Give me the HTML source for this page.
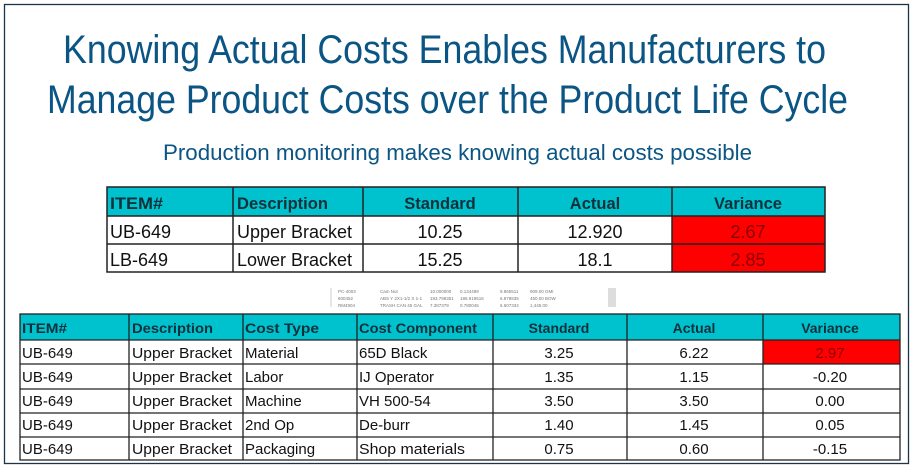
<!DOCTYPE html>
<html><head><meta charset="utf-8"><style>
html,body{margin:0;padding:0;background:#fff;}
svg{display:block;}
.t{font-family:"Liberation Sans",sans-serif;}
</style></head><body>
<svg width="917" height="472" viewBox="0 0 917 472" xmlns="http://www.w3.org/2000/svg">
<rect x="0" y="0" width="917" height="472" fill="#fff"/>
<rect x="4.5" y="4.5" width="904" height="459" fill="none" stroke="#1d3346" stroke-width="1.3"/>
<g font-family="Liberation Sans, sans-serif" fill="#0b5585">
<text x="63" y="63" font-size="40" textLength="763" lengthAdjust="spacingAndGlyphs">Knowing Actual Costs Enables Manufacturers to</text>
<text x="47" y="113" font-size="40" textLength="801" lengthAdjust="spacingAndGlyphs">Manage Product Costs over the Product Life Cycle</text>
<text x="163" y="160" font-size="22" textLength="589" lengthAdjust="spacingAndGlyphs">Production monitoring makes knowing actual costs possible</text>
</g>
<!-- table 1 -->
<rect x="107" y="187" width="718" height="29" fill="#00c2cf"/>
<rect x="672" y="216" width="153" height="56" fill="#ff0000"/>
<g stroke="#222" stroke-width="1.5" fill="none">
<rect x="107" y="187" width="718" height="85"/>
<line x1="107" y1="216" x2="825" y2="216"/><line x1="107" y1="244" x2="825" y2="244"/>
<line x1="233" y1="187" x2="233" y2="272"/><line x1="363" y1="187" x2="363" y2="272"/>
<line x1="518" y1="187" x2="518" y2="272"/><line x1="672" y1="187" x2="672" y2="272"/>
</g>
<g class="t" font-size="18" fill="#111">
<g font-weight="bold" fill="#10303a" font-size="16.5">
<text x="110" y="209" textLength="53" lengthAdjust="spacingAndGlyphs">ITEM#</text><text x="237" y="209" textLength="91" lengthAdjust="spacingAndGlyphs">Description</text>
<text x="440" y="209" text-anchor="middle">Standard</text><text x="595" y="209" text-anchor="middle">Actual</text>
<text x="748" y="209" text-anchor="middle">Variance</text></g>
<text x="110" y="238">UB-649</text><text x="237" y="238" textLength="115" lengthAdjust="spacingAndGlyphs">Upper Bracket</text>
<text x="440" y="238" text-anchor="middle">10.25</text><text x="595" y="238" text-anchor="middle">12.920</text>
<text x="748" y="238" text-anchor="middle" fill="#8a0000">2.67</text>
<text x="110" y="266">LB-649</text><text x="237" y="266" textLength="115" lengthAdjust="spacingAndGlyphs">Lower Bracket</text>
<text x="440" y="266" text-anchor="middle">15.25</text><text x="595" y="266" text-anchor="middle">18.1</text>
<text x="748" y="266" text-anchor="middle" fill="#8a0000">2.85</text>
</g>
<!-- mini screenshot -->
<g font-family="Liberation Sans, sans-serif" font-size="4.5" fill="#777">
<line x1="331" y1="288" x2="331" y2="307" stroke="#ccc"/>
<rect x="608" y="288" width="8" height="19" fill="#ddd"/>
<text x="338" y="293">PC-4003</text><text x="380" y="293">Cam Nut</text><text x="430" y="293">10.000000</text><text x="460" y="293">0.134489</text><text x="500" y="293">9.865511</text><text x="530" y="293">909.00 GMI</text>
<text x="338" y="300">600452</text><text x="380" y="300">ABS Y 2X1-1/2 X 1-1</text><text x="430" y="300">193.798351</text><text x="460" y="300">186.919516</text><text x="500" y="300">6.878835</text><text x="530" y="300">450.00 BOW</text>
<text x="338" y="307">RM4904</text><text x="380" y="307">TRASH CAN 45 GAL</text><text x="430" y="307">7.387379</text><text x="460" y="307">0.780046</text><text x="500" y="307">6.607334</text><text x="530" y="307">1,445.00</text>
</g>
<!-- table 2 -->
<rect x="20" y="314" width="880" height="26" fill="#00c2cf"/>
<rect x="763" y="340" width="137" height="24" fill="#ff0000"/>
<g stroke="#222" stroke-width="1.3" fill="none">
<rect x="20" y="314" width="880" height="146"/>
<line x1="20" y1="340" x2="900" y2="340"/><line x1="20" y1="364" x2="900" y2="364"/>
<line x1="20" y1="389" x2="900" y2="389"/><line x1="20" y1="413" x2="900" y2="413"/>
<line x1="20" y1="437" x2="900" y2="437"/>
<line x1="129" y1="314" x2="129" y2="460"/><line x1="243" y1="314" x2="243" y2="460"/>
<line x1="357" y1="314" x2="357" y2="460"/><line x1="493" y1="314" x2="493" y2="460"/>
<line x1="627" y1="314" x2="627" y2="460"/><line x1="763" y1="314" x2="763" y2="460"/>
</g>
<g class="t" font-size="15" fill="#111">
<g font-weight="bold" fill="#10303a" font-size="14">
<text x="22" y="333" textLength="45" lengthAdjust="spacingAndGlyphs">ITEM#</text><text x="132" y="333" textLength="81" lengthAdjust="spacingAndGlyphs">Description</text><text x="245" y="333" textLength="74" lengthAdjust="spacingAndGlyphs">Cost Type</text>
<text x="359" y="333" textLength="118" lengthAdjust="spacingAndGlyphs">Cost Component</text><text x="559" y="333" text-anchor="middle">Standard</text>
<text x="694" y="333" text-anchor="middle">Actual</text><text x="830" y="333" text-anchor="middle">Variance</text></g>
<g>
<text x="22" y="358">UB-649</text><text x="132" y="358" textLength="100" lengthAdjust="spacingAndGlyphs">Upper Bracket</text><text x="245" y="358">Material</text><text x="359" y="358">65D Black</text>
<text x="559" y="358" text-anchor="middle">3.25</text><text x="694" y="358" text-anchor="middle">6.22</text><text x="830" y="358" text-anchor="middle" fill="#8a0000">2.97</text>
<text x="22" y="382">UB-649</text><text x="132" y="382" textLength="100" lengthAdjust="spacingAndGlyphs">Upper Bracket</text><text x="245" y="382">Labor</text><text x="359" y="382">IJ Operator</text>
<text x="559" y="382" text-anchor="middle">1.35</text><text x="694" y="382" text-anchor="middle">1.15</text><text x="830" y="382" text-anchor="middle">-0.20</text>
<text x="22" y="406">UB-649</text><text x="132" y="406" textLength="100" lengthAdjust="spacingAndGlyphs">Upper Bracket</text><text x="245" y="406">Machine</text><text x="359" y="406">VH 500-54</text>
<text x="559" y="406" text-anchor="middle">3.50</text><text x="694" y="406" text-anchor="middle">3.50</text><text x="830" y="406" text-anchor="middle">0.00</text>
<text x="22" y="430">UB-649</text><text x="132" y="430" textLength="100" lengthAdjust="spacingAndGlyphs">Upper Bracket</text><text x="245" y="430">2nd Op</text><text x="359" y="430">De-burr</text>
<text x="559" y="430" text-anchor="middle">1.40</text><text x="694" y="430" text-anchor="middle">1.45</text><text x="830" y="430" text-anchor="middle">0.05</text>
<text x="22" y="454">UB-649</text><text x="132" y="454" textLength="100" lengthAdjust="spacingAndGlyphs">Upper Bracket</text><text x="245" y="454">Packaging</text><text x="359" y="454" textLength="106" lengthAdjust="spacingAndGlyphs">Shop materials</text>
<text x="559" y="454" text-anchor="middle">0.75</text><text x="694" y="454" text-anchor="middle">0.60</text><text x="830" y="454" text-anchor="middle">-0.15</text>
</g>
</g>
</svg>
</body></html>
